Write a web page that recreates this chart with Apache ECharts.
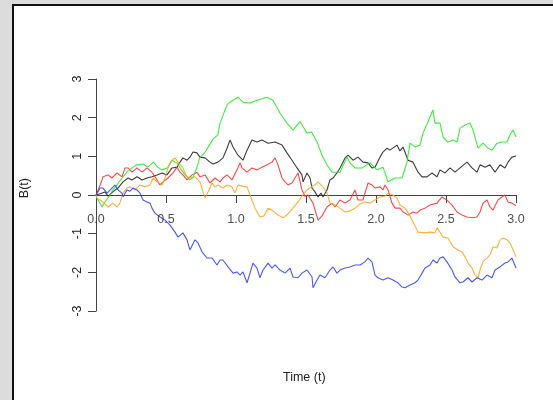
<!DOCTYPE html>
<html>
<head>
<meta charset="utf-8">
<script src="https://cdn.jsdelivr.net/npm/echarts@6/dist/echarts.min.js"></script>
<style>
  html, body { margin: 0; padding: 0; width: 553px; height: 400px; overflow: hidden; background: #dcdcdc; }
  #panel { position: absolute; left: 12px; top: 4px; width: 545px; height: 400px; background: #ffffff; border-left: 2px solid #111; border-top: 2px solid #111; }
  #chart { position: absolute; left: 0; top: 0; width: 553px; height: 400px; }
</style>
</head>
<body>
<div id="panel"></div>
<div id="chart"></div>
<script>
// Time axis ticks and value axis ticks
const xTicks = [0, 0.5, 1.0, 1.5, 2.0, 2.5, 3.0];
const yTicks = [-3, -2, -1, 0, 1, 2, 3];
const xTitle = 'Time (t)';
const yTitle = 'B(t)';

// Five Brownian motion paths: [t, B(t)]
const pathBlack = [[0,0],[0.007,-0.05],[0.03,0.03],[0.064,0.08],[0.086,-0.03],[0.12,0.08],[0.157,0.18],[0.193,0.34],[0.229,0.44],[0.257,0.39],[0.293,0.47],[0.329,0.39],[0.364,0.44],[0.4,0.47],[0.436,0.52],[0.471,0.57],[0.507,0.52],[0.543,0.70],[0.579,0.72],[0.6,0.85],[0.621,0.96],[0.65,0.90],[0.671,0.98],[0.693,1.11],[0.721,1.09],[0.743,0.98],[0.779,0.96],[0.814,0.85],[0.836,0.80],[0.871,0.85],[0.907,0.96],[0.936,1.21],[0.957,1.42],[0.979,1.24],[1.014,1.03],[1.05,0.90],[1.079,1.16],[1.114,1.42],[1.15,1.37],[1.186,1.42],[1.229,1.34],[1.279,1.37],[1.329,1.29],[1.364,1.09],[1.4,0.90],[1.436,0.70],[1.471,0.52],[1.479,0.34],[1.507,0.57],[1.529,0.44],[1.543,0.18],[1.564,0.08],[1.586,-0.05],[1.607,0.05],[1.621,-0.05],[1.65,0.13],[1.671,0.39],[1.693,0.44],[1.721,0.57],[1.743,0.70],[1.779,0.96],[1.8,1.03],[1.836,0.90],[1.871,0.98],[1.907,0.85],[1.943,0.83],[1.971,0.70],[1.993,0.72],[2.029,0.98],[2.05,1.11],[2.079,1.21],[2.1,1.16],[2.15,1.29],[2.171,1.14],[2.193,1.24],[2.229,0.90],[2.264,0.85],[2.3,0.59],[2.329,0.47],[2.364,0.47],[2.4,0.57],[2.436,0.47],[2.457,0.65],[2.493,0.57],[2.529,0.70],[2.564,0.59],[2.6,0.70],[2.65,0.85],[2.686,0.70],[2.721,0.59],[2.743,0.78],[2.779,0.72],[2.814,0.78],[2.85,0.59],[2.886,0.78],[2.921,0.70],[2.943,0.85],[2.971,0.98],[3.0,1.01]];

const pathRed = [[0,0],[0.03,0.26],[0.05,0.47],[0.086,0.52],[0.114,0.44],[0.15,0.57],[0.186,0.47],[0.207,0.70],[0.229,0.70],[0.257,0.59],[0.293,0.70],[0.329,0.59],[0.364,0.70],[0.4,0.59],[0.436,0.39],[0.457,0.26],[0.479,0.34],[0.514,0.44],[0.55,0.57],[0.579,0.72],[0.6,0.59],[0.621,0.52],[0.65,0.39],[0.686,0.52],[0.721,0.59],[0.743,0.47],[0.779,0.52],[0.814,0.31],[0.85,0.44],[0.886,0.34],[0.907,0.44],[0.936,0.52],[0.971,0.39],[1.007,0.65],[1.029,0.83],[1.043,0.70],[1.079,0.59],[1.114,0.70],[1.15,0.65],[1.186,0.72],[1.221,0.78],[1.257,0.85],[1.279,0.96],[1.3,0.78],[1.329,0.44],[1.35,0.34],[1.371,0.26],[1.4,0.31],[1.421,0.44],[1.443,0.57],[1.471,0.13],[1.493,-0.03],[1.514,0],[1.55,-0.21],[1.586,-0.65],[1.614,-0.54],[1.65,-0.31],[1.686,-0.21],[1.707,-0.31],[1.743,-0.13],[1.779,-0.21],[1.814,-0.13],[1.85,0.13],[1.871,-0.13],[1.907,-0.13],[1.943,0.31],[1.971,0.26],[1.993,0.18],[2.029,0.21],[2.05,0.13],[2.064,0.26],[2.086,0.13],[2.114,-0.21],[2.136,-0.34],[2.171,-0.34],[2.193,-0.44],[2.229,-0.52],[2.264,-0.44],[2.293,-0.47],[2.314,-0.39],[2.35,-0.34],[2.386,-0.26],[2.436,-0.21],[2.471,-0.05],[2.507,-0.13],[2.543,-0.26],[2.579,-0.44],[2.614,-0.52],[2.65,-0.57],[2.686,-0.59],[2.721,-0.57],[2.743,-0.44],[2.764,-0.21],[2.793,-0.13],[2.814,-0.31],[2.836,-0.39],[2.871,-0.13],[2.9,-0.05],[2.921,0],[2.943,-0.18],[2.971,-0.21],[3.0,-0.28]];

const pathGreen = [[0,0],[0.007,-0.08],[0.043,-0.31],[0.064,-0.18],[0.10,0],[0.12,0.13],[0.15,0.26],[0.186,0.44],[0.22,0.59],[0.257,0.70],[0.29,0.78],[0.336,0.80],[0.37,0.72],[0.41,0.85],[0.44,0.72],[0.47,0.65],[0.51,0.70],[0.54,0.90],[0.58,0.83],[0.60,0.70],[0.636,0.52],[0.67,0.39],[0.69,0.44],[0.72,0.70],[0.74,0.96],[0.78,1.11],[0.81,1.29],[0.836,1.45],[0.87,1.55],[0.886,1.86],[0.936,2.33],[0.957,2.40],[1.014,2.53],[1.05,2.40],[1.10,2.38],[1.15,2.45],[1.22,2.53],[1.264,2.45],[1.314,2.12],[1.364,1.86],[1.407,1.68],[1.457,1.90],[1.507,1.60],[1.54,1.63],[1.579,1.37],[1.62,0.98],[1.65,0.78],[1.686,0.59],[1.743,0.59],[1.793,0.98],[1.814,0.83],[1.85,0.70],[1.9,0.70],[1.957,0.83],[2.007,0.65],[2.05,0.72],[2.086,0.34],[2.136,0.44],[2.186,0.44],[2.22,0.83],[2.243,1.34],[2.279,1.24],[2.314,1.29],[2.336,1.60],[2.371,1.89],[2.4,2.14],[2.407,2.20],[2.421,1.86],[2.457,1.86],[2.479,1.50],[2.514,1.37],[2.55,1.42],[2.579,1.37],[2.6,1.73],[2.636,1.81],[2.671,1.86],[2.693,1.68],[2.729,1.21],[2.764,1.34],[2.8,1.21],[2.829,1.16],[2.864,1.34],[2.9,1.37],[2.936,1.37],[2.957,1.55],[2.979,1.68],[3.0,1.50]];

const pathOrange = [[0,0],[0.007,-0.08],[0.05,-0.18],[0.086,-0.31],[0.121,-0.21],[0.15,-0.31],[0.171,-0.21],[0.193,0.05],[0.221,0.18],[0.243,0.21],[0.279,0.13],[0.314,0.26],[0.35,0.21],[0.386,0.26],[0.407,0.44],[0.436,0.34],[0.471,0.26],[0.493,0.44],[0.514,0.70],[0.543,0.90],[0.564,0.96],[0.586,0.85],[0.621,0.70],[0.65,0.47],[0.671,0.44],[0.707,0.47],[0.743,0.34],[0.764,0.08],[0.779,-0.08],[0.8,0.08],[0.829,0.31],[0.85,0.21],[0.871,0.26],[0.907,0.18],[0.936,0.26],[0.971,0.21],[0.993,0.05],[1.014,0.26],[1.043,0.23],[1.079,0.21],[1.114,-0.13],[1.136,-0.34],[1.171,-0.57],[1.2,-0.54],[1.229,-0.34],[1.264,-0.41],[1.3,-0.52],[1.336,-0.59],[1.371,-0.49],[1.407,-0.34],[1.443,-0.18],[1.471,-0.03],[1.507,0.13],[1.543,0.23],[1.564,0.26],[1.586,0.34],[1.621,0.21],[1.65,0.05],[1.671,-0.21],[1.707,-0.26],[1.743,-0.34],[1.779,-0.44],[1.814,-0.41],[1.85,-0.34],[1.886,-0.23],[1.921,-0.18],[1.957,-0.21],[1.993,-0.13],[2.029,-0.05],[2.064,-0.03],[2.086,0.05],[2.121,0],[2.15,-0.08],[2.171,-0.26],[2.207,-0.34],[2.243,-0.54],[2.279,-0.80],[2.3,-0.96],[2.35,-0.98],[2.386,-0.96],[2.421,-0.98],[2.436,-0.85],[2.457,-0.96],[2.479,-1.09],[2.514,-1.11],[2.55,-1.34],[2.586,-1.42],[2.614,-1.47],[2.636,-1.60],[2.657,-1.76],[2.686,-1.89],[2.707,-2.07],[2.729,-2.14],[2.743,-1.94],[2.764,-1.73],[2.793,-1.63],[2.814,-1.55],[2.836,-1.34],[2.864,-1.37],[2.886,-1.16],[2.907,-1.11],[2.936,-1.16],[2.957,-1.24],[2.979,-1.42],[3.0,-1.60]];

const pathBlue = [[0,0],[0.007,-0.05],[0.014,0.05],[0.029,0.18],[0.05,0.18],[0.079,0.05],[0.086,0],[0.114,0.18],[0.136,0.26],[0.157,0.13],[0.186,0.05],[0.193,-0.05],[0.221,0.13],[0.243,0.10],[0.264,0.18],[0.293,0.13],[0.314,0.05],[0.336,-0.13],[0.364,-0.18],[0.386,-0.21],[0.4,-0.34],[0.421,-0.47],[0.457,-0.57],[0.493,-0.65],[0.529,-0.78],[0.564,-0.96],[0.586,-1.09],[0.621,-0.98],[0.65,-1.16],[0.671,-1.42],[0.707,-1.16],[0.729,-1.24],[0.757,-1.47],[0.793,-1.63],[0.829,-1.63],[0.864,-1.81],[0.886,-1.68],[0.907,-1.68],[0.943,-1.86],[0.979,-2.02],[1.007,-1.99],[1.029,-2.07],[1.05,-1.99],[1.079,-2.27],[1.1,-2.02],[1.121,-1.76],[1.15,-1.89],[1.171,-2.14],[1.193,-1.94],[1.229,-1.76],[1.257,-1.89],[1.279,-1.81],[1.314,-1.94],[1.35,-2.02],[1.386,-1.89],[1.407,-2.12],[1.443,-2.14],[1.471,-2.02],[1.507,-1.94],[1.543,-2.12],[1.55,-2.40],[1.579,-2.20],[1.6,-2.07],[1.636,-2.14],[1.671,-1.94],[1.693,-1.86],[1.721,-2.02],[1.743,-1.94],[1.779,-1.89],[1.814,-1.86],[1.85,-1.81],[1.886,-1.81],[1.921,-1.73],[1.943,-1.63],[1.971,-1.73],[1.993,-2.07],[2.014,-2.14],[2.05,-2.20],[2.086,-2.14],[2.121,-2.20],[2.157,-2.27],[2.186,-2.38],[2.207,-2.40],[2.243,-2.33],[2.279,-2.27],[2.3,-2.20],[2.329,-2.02],[2.35,-1.89],[2.386,-1.81],[2.407,-1.68],[2.436,-1.76],[2.457,-1.63],[2.479,-1.60],[2.507,-1.73],[2.543,-1.94],[2.564,-2.12],[2.6,-2.27],[2.621,-2.25],[2.657,-2.14],[2.686,-2.25],[2.721,-2.14],[2.757,-2.20],[2.793,-2.07],[2.829,-2.14],[2.85,-1.94],[2.886,-1.86],[2.921,-1.76],[2.943,-1.73],[2.971,-1.63],[3.0,-1.89]];

const seriesList = [
  { name: 'black', data: pathBlack, color: '#1a1a1a' },
  { name: 'red', data: pathRed, color: '#ff2a2a' },
  { name: 'green', data: pathGreen, color: '#22e622' },
  { name: 'orange', data: pathOrange, color: '#ffa21f' },
  { name: 'blue', data: pathBlue, color: '#2a3cff' }
];

const FONT = 'Liberation Sans, Arial, Helvetica, sans-serif';
const chart = echarts.init(document.getElementById('chart'), null, { renderer: 'canvas' });

const lineSeries = seriesList.map(s => ({
  name: s.name, type: 'line', data: s.data, showSymbol: false, symbol: 'none',
  lineStyle: { color: s.color, width: 1.1, opacity: 0.85 }, silent: true, z: 2
}));

// x tick labels sit just under the zero line (R axis drawn at y = 0)
const tickLabelSeries = {
  type: 'scatter', silent: true, symbolSize: 0, z: 5,
  data: xTicks.map(t => [t, 0]),
  label: { show: true, position: 'bottom', distance: 18, color: '#222',
    fontFamily: FONT, fontSize: 12.5, formatter: p => p.value[0].toFixed(1) }
};

chart.setOption({
  backgroundColor: 'transparent',
  animation: false,
  grid: { left: 96, top: 79, width: 420, height: 232, containLabel: false },
  xAxis: {
    type: 'value', min: xTicks[0], max: xTicks[xTicks.length - 1], interval: 0.5,
    axisLine: { show: true, onZero: true, lineStyle: { color: '#444', width: 1 } },
    axisTick: { show: true, inside: false, length: 8, lineStyle: { color: '#444' } },
    axisLabel: { show: false },
    splitLine: { show: false }
  },
  yAxis: {
    type: 'value', min: yTicks[0], max: yTicks[yTicks.length - 1], interval: 1,
    axisLine: { show: true, onZero: false, lineStyle: { color: '#444', width: 1 } },
    axisTick: { show: true, inside: false, length: 8, lineStyle: { color: '#444' } },
    axisLabel: { color: '#222', fontFamily: FONT, fontSize: 12.5, rotate: 90, margin: 12 },
    splitLine: { show: false }
  },
  graphic: [
    { type: 'text', left: 18, top: 178, rotation: Math.PI / 2,
      style: { text: yTitle, fill: '#222', font: '12.5px ' + FONT } },
    { type: 'text', left: 283, top: 371,
      style: { text: xTitle, fill: '#222', font: '12.5px ' + FONT } }
  ],
  series: lineSeries.concat([tickLabelSeries])
});
</script>
</body>
</html>
